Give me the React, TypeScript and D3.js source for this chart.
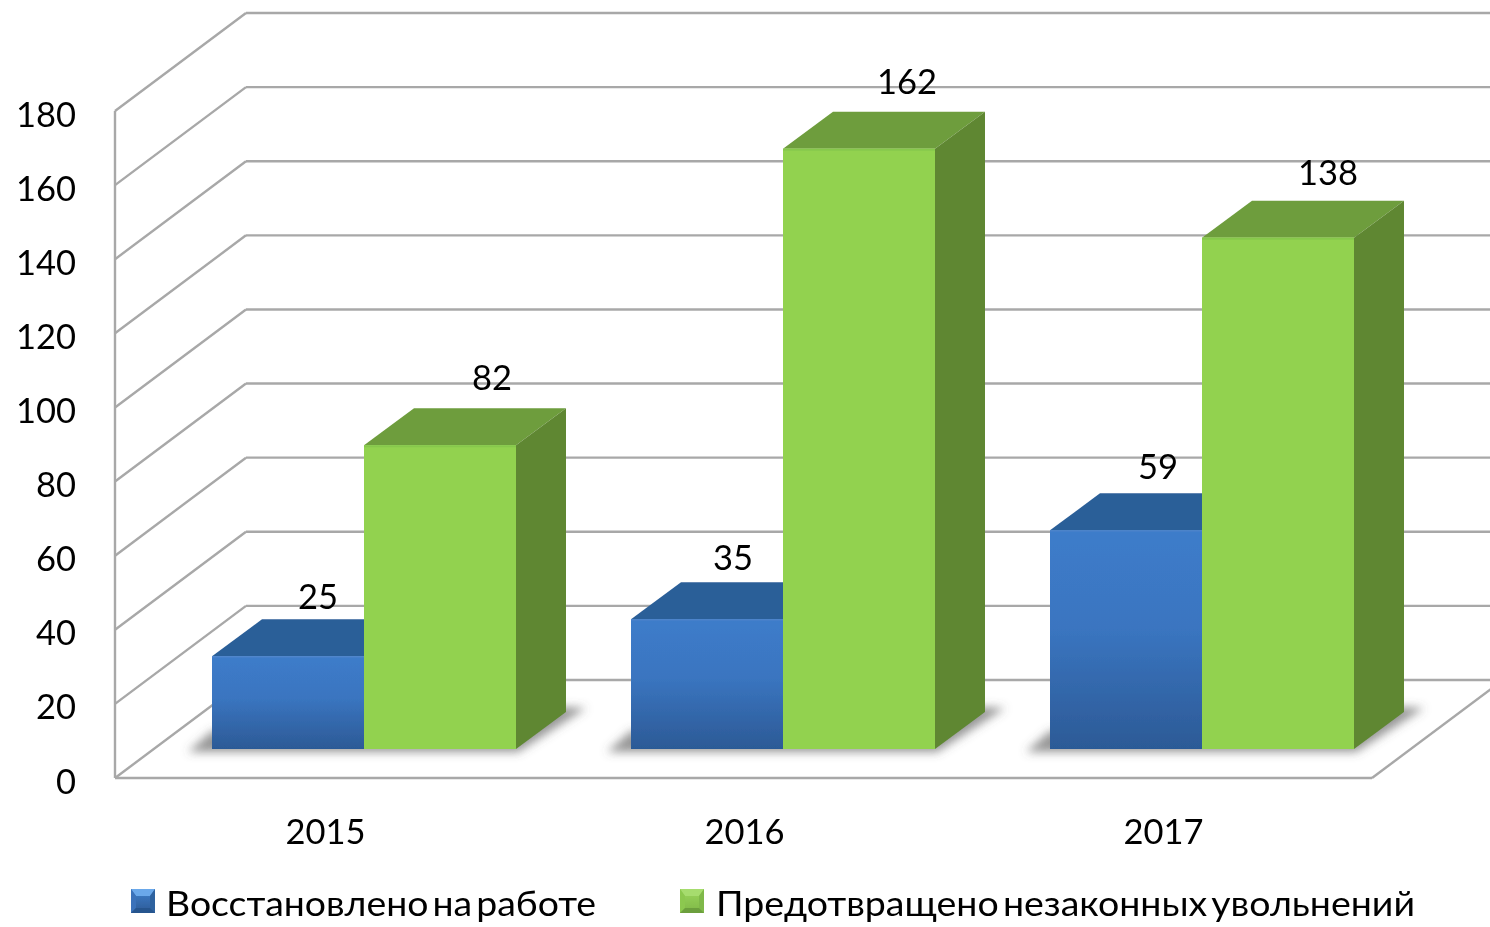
import React from "react";
import * as d3 from "d3";

const years = ["2015", "2016", "2017"];
const seriesNames = ["Восстановлено на работе", "Предотвращено незаконных увольнений"];
const restored = [25, 35, 59];
const prevented = [82, 162, 138];
const yTicks = [0, 20, 40, 60, 80, 100, 120, 140, 160, 180];

const W = 1490, H = 927;
const FONT = "Lato, 'Open Sans', sans-serif";
const y = d3.scaleLinear().domain([0, 180]).range([778, 111]);
const x = d3.scaleBand().domain(years).range([115, 1372]);
const inner = d3.scaleBand().domain(["a", "b"]).range([97, 97 + 304]);
const wallDx = 131, wallDy = -98;
const depthDx = 50, depthDy = -37;
const barLift = 29;
const GRID = "#a8a8a8";
const restoredNudge: [number, number][] = [[0, 2], [-4, 0], [2, -2]];
const preventedNudge: [number, number][] = [[2, -1], [-2, -1], [0, 1]];

const pts = (p: [number, number][]) => p.map((q) => q.join(",")).join(" ");

function Cuboid({ x0, w, v, front, top, side, hi }: { x0: number; w: number; v: number; front: string; top: string; side: string; hi: string }) {
  const b = y(0) - barLift;
  const t = y(v) - barLift;
  return (
    <g>
      <polygon points={pts([[x0, t], [x0 + depthDx, t + depthDy], [x0 + w + depthDx, t + depthDy], [x0 + w, t]])} fill={top} />
      <polygon points={pts([[x0 + w, t], [x0 + w + depthDx, t + depthDy], [x0 + w + depthDx, b + depthDy], [x0 + w, b]])} fill={side} />
      <rect x={x0} y={t} width={w} height={b - t} fill={front} />
      <line x1={x0} x2={x0 + w} y1={t + 1} y2={t + 1} stroke={hi} strokeWidth={2} />
    </g>
  );
}

function Icon({ x0, y0, s, main, topC, leftC, rightC, bottomC }: { x0: number; y0: number; s: number; main: string; topC: string; leftC: string; rightC: string; bottomC: string }) {
  const b = 5;
  return (
    <g>
      <rect x={x0} y={y0} width={s} height={s} fill={main} />
      <polygon points={pts([[x0, y0], [x0 + s, y0], [x0 + s - b, y0 + b + 2], [x0 + b, y0 + b + 2]])} fill={topC} />
      <polygon points={pts([[x0, y0], [x0 + b, y0 + b + 2], [x0 + b, y0 + s - b], [x0, y0 + s]])} fill={leftC} />
      <polygon points={pts([[x0 + s, y0], [x0 + s - b, y0 + b + 2], [x0 + s - b, y0 + s - b], [x0 + s, y0 + s]])} fill={rightC} />
      <polygon points={pts([[x0, y0 + s], [x0 + b, y0 + s - b], [x0 + s - b, y0 + s - b], [x0 + s, y0 + s]])} fill={bottomC} />
    </g>
  );
}

export default function App() {
  const w = inner.bandwidth();
  const base = y(0) - barLift;
  return (
    <svg width={W} height={H} style={{ position: "absolute", left: 0, top: 0, display: "block" }} fontFamily={FONT}>
      <defs>
        <linearGradient id="blueFront" x1="0" y1="0" x2="0" y2="1">
          <stop offset="0" stopColor="#3d7cca" />
          <stop offset="0.45" stopColor="#3a75c0" />
          <stop offset="1" stopColor="#2c5a96" />
        </linearGradient>
        <linearGradient id="blueIcon" x1="0" y1="0" x2="0" y2="1">
          <stop offset="0" stopColor="#4080cc" />
          <stop offset="1" stopColor="#2c5a96" />
        </linearGradient>
        <linearGradient id="greenIcon" x1="0" y1="0" x2="0" y2="1">
          <stop offset="0" stopColor="#9ad55a" />
          <stop offset="1" stopColor="#7fb848" />
        </linearGradient>
        <filter id="soft" x="-20%" y="-60%" width="140%" height="220%">
          <feGaussianBlur stdDeviation="5" />
        </filter>
        <filter id="tiny" x="-5%" y="-5%" width="110%" height="110%">
          <feGaussianBlur stdDeviation="0.6" />
        </filter>
        <filter id="txt" x="-5%" y="-5%" width="110%" height="110%">
          <feGaussianBlur stdDeviation="0.35" />
        </filter>
      </defs>
      <rect width={W} height={H} fill="#fff" />

      <g stroke={GRID} strokeWidth={2.4} fill="none" filter="url(#tiny)">
        {yTicks.map((t) => (
          <g key={t}>
            <line x1={115} y1={y(t)} x2={115 + wallDx} y2={y(t) + wallDy} />
            <line x1={115 + wallDx} y1={y(t) + wallDy} x2={1372 + wallDx} y2={y(t) + wallDy} />
          </g>
        ))}
        <line x1={115} y1={y(180)} x2={115} y2={y(0)} />
        <line x1={115} y1={y(0)} x2={1372} y2={y(0)} />
        <line x1={1372} y1={y(0)} x2={1372 + wallDx} y2={y(0) + wallDy} />
      </g>

      {years.map((yr) => {
        const x0 = (x(yr) as number) + (inner("a") as number);
        const xEnd = x0 + 2 * w;
        return (
          <polygon
            key={yr}
            points={pts([[x0 - 24, base + 3], [xEnd + 2, base + 3], [xEnd + 70, base + depthDy - 4], [xEnd + depthDx, base + depthDy - 5], [x0, base - 18]])}
            fill="#555"
            fillOpacity={0.62}
            filter="url(#soft)"
          />
        );
      })}

      <g filter="url(#tiny)">
        {years.map((yr, i) => {
          const g = x(yr) as number;
          return (
            <g key={yr}>
              <Cuboid x0={g + (inner("a") as number)} w={w} v={restored[i]} front="url(#blueFront)" top="#2c5e98" side="#28558a" hi="#447fca" />
              <Cuboid x0={g + (inner("b") as number)} w={w} v={prevented[i]} front="#92d250" top="#6e9d3d" side="#5f8733" hi="#86c84c" />
            </g>
          );
        })}
      </g>

      <g fontSize={34.5} fill="#000" filter="url(#txt)">
        {yTicks.map((t) => (
          <text key={t} x={76} y={y(t) + 14.5 + 1} textAnchor="end">{t}</text>
        ))}
        {years.map((yr) => (
          <text key={yr} x={(x(yr) as number) + x.bandwidth() / 2 + 1} y={843.5} textAnchor="middle">{yr}</text>
        ))}
        {years.map((yr, i) => (
          <g key={yr}>
            <text x={(x(yr) as number) + (inner("a") as number) + w / 2 + 30 + restoredNudge[i][0]} y={y(restored[i]) - barLift - 49 + restoredNudge[i][1]} textAnchor="middle">{restored[i]}</text>
            <text x={(x(yr) as number) + (inner("b") as number) + w / 2 + 50 + preventedNudge[i][0]} y={y(prevented[i]) - barLift - 54 + preventedNudge[i][1]} textAnchor="middle">{prevented[i]}</text>
          </g>
        ))}
        <text x={166} y={916} textLength={430} lengthAdjust="spacingAndGlyphs" wordSpacing={-5}>{seriesNames[0]}</text>
        <text x={716} y={916} textLength={699} lengthAdjust="spacingAndGlyphs" wordSpacing={-5}>{seriesNames[1]}</text>
      </g>

      <g filter="url(#tiny)">
        <Icon x0={131} y0={889} s={24} main="url(#blueIcon)" topC="#6aa8ea" leftC="#3a72ba" rightC="#2f629f" bottomC="#28548e" />
        <Icon x0={680} y0={889} s={24} main="url(#greenIcon)" topC="#a6dc6e" leftC="#8cc850" rightC="#7fb848" bottomC="#6c9f3d" />
      </g>
    </svg>
  );
}
